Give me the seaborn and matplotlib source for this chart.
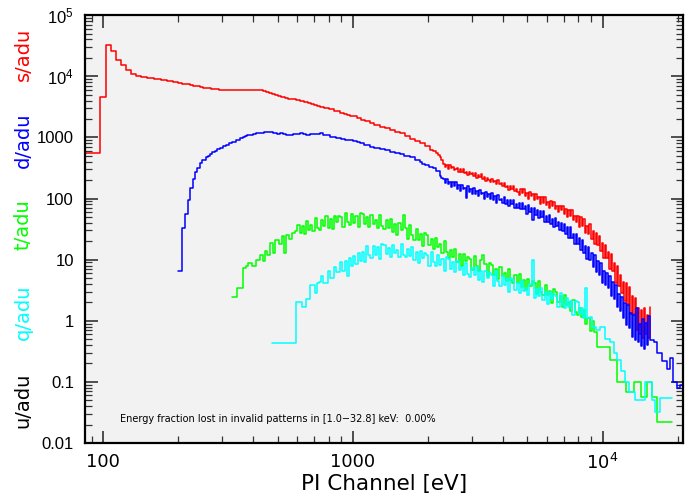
import numpy as np
import pandas as pd
import matplotlib
matplotlib.use('Agg')
import matplotlib.pyplot as plt
from matplotlib.ticker import FixedLocator, FixedFormatter, LogLocator, NullFormatter
import seaborn as sns

# ---- values: PI channel energy [eV] vs counts/adu ----

# fine channel grid of the noisy high-energy part of singles / doubles
E_HI = [2300, 2332, 2365, 2398, 2431, 2465, 2500, 2535, 2570, 2606,
        2643, 2680, 2717, 2755, 2794, 2833, 2873, 2913, 2954, 2995,
        3037, 3080, 3123, 3167, 3211, 3256, 3302, 3348, 3395, 3443,
        3491, 3540, 3589, 3640, 3691, 3742, 3795, 3848, 3902, 3956,
        4012, 4068, 4125, 4183, 4241, 4301, 4361, 4422, 4484, 4547,
        4610, 4675, 4740, 4807, 4874, 4942, 5012, 5082, 5153, 5225,
        5298, 5372, 5447, 5524, 5601, 5680, 5759, 5840, 5922, 6004,
        6088, 6174, 6260, 6348, 6437, 6527, 6618, 6711, 6805, 6900,
        6997, 7095, 7194, 7295, 7397, 7500, 7605, 7712, 7820, 7929,
        8040, 8153, 8267, 8383, 8500, 8619, 8740, 8862, 8986, 9112,
        9240, 9369, 9500, 9633, 9768, 9905, 10044, 10184, 10327, 10471,
        10618, 10767, 10917, 11070, 11225, 11382, 11542, 11703, 11867, 12033,
        12202, 12373, 12546, 12721, 12900, 13080, 13263, 13449, 13637, 13828,
        14022, 14218, 14417, 14619, 14824, 15031, 15242, 15455]

# singles (s)
S_E_LO = [84, 97.3, 102.8, 107.7, 112.7, 118, 123.6, 129.4, 135.5, 142,
          150, 160, 170, 180, 190, 200, 207, 215, 222, 230,
          237, 244, 252, 260, 270, 280, 290, 300, 315, 330,
          345, 360, 375, 390, 405, 420, 435, 450, 462, 475,
          487, 500, 517, 534, 552, 570, 590, 613, 636, 660,
          680, 700, 720, 738, 770, 800, 840, 888, 920, 950,
          975, 1000, 1040, 1080, 1120, 1169, 1220, 1280, 1340, 1406,
          1470, 1541, 1620, 1700, 1775, 1854, 1940, 2032, 2090, 2150,
          2190, 2228, 2260]
S_LO = [557, 4600, 32000, 26000, 18600, 15500, 12800, 11000, 10200, 9700,
        9300, 9000, 8700, 8400, 8100, 7800, 7600, 7400, 7200, 7000,
        6850, 6700, 6500, 6350, 6200, 6100, 6050, 6000, 5950, 5900,
        5880, 5900, 5950, 6000, 5980, 5900, 5750, 5600, 5400, 5200,
        5000, 4800, 4600, 4400, 4300, 4200, 4100, 4000, 3850, 3700,
        3550, 3400, 3270, 3150, 3000, 2900, 2720, 2550, 2450, 2350,
        2270, 2200, 2070, 1950, 1830, 1700, 1600, 1500, 1400, 1300,
        1230, 1170, 1050, 950, 880, 810, 710, 620, 590, 560,
        520, 480, 420]
S_HI = [371, 323, 349, 306, 354, 312, 330, 289, 309, 321,
        274, 305, 274, 305, 259, 275, 241, 276, 247, 260,
        235, 262, 219, 241, 221, 249, 208, 221, 191, 220,
        199, 183, 211, 183, 197, 171, 198, 171, 177, 158,
        180, 153, 160, 140, 162, 145, 162, 131, 143, 128,
        116, 142, 121, 141, 109, 125, 100, 127, 108, 117,
        95, 118, 97, 107, 82, 105, 86, 104, 77, 88,
        71, 90, 74, 88, 68, 75, 60, 76, 64, 74,
        55, 67, 50, 66, 52, 64, 44, 51, 42, 51,
        34, 49, 35, 46, 27, 36, 26, 38, 22, 29,
        18, 27.5, 17.4, 24.7, 14, 18.4, 10.7, 17.4, 10.8, 13.2,
        7, 12.2, 6.4, 8.9, 4.1, 7.8, 3.75, 5.7, 2.8, 4.3,
        2.1, 4.2, 1.9, 3.6, 1.3, 2.5, 1.3, 2.4, 0.7, 1.6,
        0.6, 1.5, 0.53, 1.6, 0.6, 1.26, 0.53, 1.7]

# doubles (d)
D_E_LO = [199.5, 207, 213, 219, 223, 229, 233, 238, 244, 250,
          258, 263, 268, 274, 280, 287, 294, 302, 310, 319,
          328, 340, 353, 362, 370, 378, 387, 398, 410, 420,
          430, 440, 450, 465, 480, 495, 511, 525, 540, 560,
          575, 590, 613, 630, 650, 675, 700, 720, 738, 760,
          780, 809, 835, 860, 895, 930, 965, 1000, 1035, 1067,
          1110, 1169, 1220, 1282, 1340, 1406, 1470, 1541, 1610, 1690,
          1770, 1854, 1900, 1950, 2020, 2090, 2160, 2228, 2260]
D_LO = [6.5, 33, 56, 95, 150, 205, 270, 320, 380, 420,
        470, 500, 540, 570, 600, 640, 670, 720, 760, 810,
        850, 900, 970, 1010, 1050, 1080, 1100, 1150, 1180, 1200,
        1160, 1220, 1240, 1210, 1180, 1150, 1170, 1120, 1100, 1080,
        1120, 1150, 1170, 1120, 1100, 1130, 1150, 1120, 1160, 1100,
        1080, 1000, 1020, 960, 940, 900, 890, 870, 840, 820,
        760, 700, 680, 640, 610, 580, 560, 530, 500, 480,
        430, 390, 370, 350, 330, 310, 280, 230, 215]
D_HI = [210, 176, 210, 174, 186, 157, 187, 161, 184, 144,
        166, 132, 167, 143, 151, 102, 159, 129, 144, 119,
        146, 118, 135, 109, 140, 117, 121, 100, 129, 106,
        118, 98, 123, 96, 111, 83, 112, 93, 100, 83,
        104, 82, 94, 75, 95, 81, 95, 70, 80, 70,
        85, 67, 85, 67, 75, 56, 77, 60, 70, 45,
        71, 54, 64, 48, 62, 50, 62, 42, 51, 42,
        53, 38, 47, 34, 48, 35, 42, 30, 40, 29,
        38, 26, 34, 22.4, 34, 22.4, 26.4, 18, 25.8, 18,
        22.8, 14.4, 21, 12.9, 16.8, 10.1, 16.3, 9.8, 12.6, 7.6,
        11.7, 6.2, 9.6, 5.7, 8.8, 4.2, 6.6, 3.9, 6.0, 3.4,
        5.4, 2.5, 4.3, 2.25, 3.8, 1.7, 2.75, 1.45, 2.45, 1.1,
        1.96, 0.85, 1.8, 0.77, 1.35, 0.55, 1.23, 0.48, 1.6, 0.45,
        0.9, 0.38, 1.07, 0.34, 0.93, 0.4, 1.2, 0.48]
D_E_TAIL = [16000, 16520, 17300, 18110, 18600, 19200, 19860, 20500, 21500]
D_TAIL = [0.45, 0.3, 0.22, 0.16, 0.25, 0.1, 0.08, 0.09, 0.09]

# channel grid shared by triples / quadruples in their noisy part
E_MID = [600, 612, 624, 637, 649, 662, 676, 689, 703, 717,
         731, 746, 761, 776, 792, 808, 824, 840, 857, 874,
         892, 909, 928, 946, 965, 984, 1004, 1024, 1045, 1066,
         1087, 1109, 1131, 1154, 1177, 1200, 1224, 1249, 1274, 1299,
         1325, 1352, 1379, 1407, 1435, 1463, 1493, 1523, 1553, 1584,
         1616, 1648, 1681, 1715, 1749, 1784, 1820, 1856, 1893, 1931,
         1970, 2009, 2049, 2090, 2132, 2175, 2218, 2263, 2308, 2354,
         2401, 2449, 2498, 2548, 2599, 2651, 2704, 2758, 2813, 2870,
         2927, 2986, 3045, 3106, 3168, 3232, 3296, 3362, 3430, 3498,
         3568, 3640, 3712, 3787, 3862, 3940, 4018, 4099, 4181, 4264,
         4350, 4437, 4525, 4616, 4708, 4802, 4899, 4997, 5097, 5199,
         5303, 5409, 5517, 5627, 5740, 5855, 5972, 6091, 6213, 6337,
         6464, 6594, 6725, 6860, 6997, 7137, 7280, 7425, 7574, 7725,
         7880, 8037, 8198, 8362, 8529, 8700, 8874, 9051]

# triples (t)
T_E_LO = [328, 345, 363, 372, 380, 395, 410, 424, 435, 445,
          455, 465, 480, 490, 505, 520, 530, 540, 555, 570, 585]
T_LO = [2.45, 3.5, 7.2, 7.8, 8.8, 8.0, 10, 12, 9.5, 14,
        12, 19, 13, 21, 18, 24, 13, 25, 22, 27, 29]
T_MID = [37, 27, 36, 26, 42.5, 31, 37, 29, 48, 33,
         31, 44.5, 35, 51, 32.5, 45.5, 31.5, 51, 41, 52,
         49.5, 34, 59, 42, 37, 56, 40, 52, 34, 59,
         55, 38.5, 49, 34, 54, 38.5, 44, 33, 53, 35,
         32, 43.7, 33.5, 46.5, 28.3, 38, 25.3, 39.4, 30.3, 53,
         33, 21.8, 36.7, 25.1, 21.1, 31.2, 21.2, 26.7, 16.5, 27.5,
         25.2, 17.3, 21.7, 14.8, 22.9, 15.9, 17.9, 13, 20.4, 13.2,
         10.7, 14.5, 11, 15.1, 9.1, 12.2, 8, 12.4, 9.4, 11.2,
         10.1, 6.75, 11.3, 7.8, 6.6, 9.8, 12, 8.4, 5.3, 8.75,
         8.2, 5.6, 7.0, 4.9, 7.6, 5.3, 6.0, 4.5, 7.0, 4.6,
         4.1, 5.6, 4.2, 5.9, 3.6, 4.7, 3.2, 4.9, 3.7, 4.5,
         4.1, 2.7, 4.55, 3.0, 2.6, 3.8, 2.6, 3.1, 1.95, 3.25,
         3.0, 2.0, 2.5, 1.7, 2.6, 1.8, 2.0, 1.45, 2.2, 1.4,
         1.23, 1.6, 1.17, 1.5, 0.88, 1.1, 0.69, 1.0]
T_E_TAIL = [9200, 9500, 10700, 11430, 12400, 13400, 14300, 15100, 15700, 16500, 18970]
T_TAIL = [0.65, 0.37, 0.23, 0.1, 0.068, 0.1, 0.057, 0.1, 0.057, 0.022, 0.022]

# quadruples (q)
Q_E_LO = [474, 590]
Q_LO = [0.43, 2.0]
Q_MID = [2.0, 2.0, 1.7, 1.7, 2.3, 2.3, 3.8, 3.8, 2.8, 4.2,
         4.3, 5.5, 4.2, 4.2, 6.5, 5.0, 5.0, 7.5, 6.2, 6.2,
         9.0, 6.5, 9.5, 5.5, 10.5, 8.0, 11.5, 8.5, 13, 9.5,
         13.2, 9.2, 16.4, 11.9, 10.6, 16.5, 11.9, 15.8, 10.3, 18,
         17.4, 12.2, 15.7, 11.1, 17.6, 12.6, 14.6, 11.0, 17.7, 11.9,
         11, 15.1, 11.6, 16.1, 9.8, 13.3, 8.9, 13.8, 10.7, 13,
         11.9, 8.0, 13.4, 9.3, 7.9, 11.8, 8.2, 10.3, 6.5, 11,
         10.3, 7.1, 9.0, 6.2, 9.6, 6.75, 7.7, 5.6, 8.8, 5.8,
         5.2, 7.2, 5.6, 7.7, 4.7, 6.4, 4.3, 6.6, 5.1, 6.1,
         5.6, 3.75, 6.4, 4.4, 3.7, 5.5, 3.8, 4.8, 2.95, 5.0,
         4.7, 3.2, 4.1, 2.8, 4.4, 3.1, 3.5, 2.6, 4.0, 10,
         2.4, 3.3, 2.5, 3.5, 2.2, 2.9, 1.9, 3.0, 2.3, 2.7,
         2.5, 1.65, 2.8, 1.9, 1.6, 2.4, 1.65, 2.1, 1.25, 2.1,
         2.0, 1.3, 1.6, 1.1, 3.5, 1.1, 1.15, 0.8]
Q_E_TAIL = [9400, 9800, 10200, 10700, 11100, 11430, 11800, 12300, 12800, 13500,
            14800, 15800, 16200, 17000, 18970]
Q_TAIL = [0.7, 0.8, 0.5, 0.45, 0.3, 0.23, 0.15, 0.1, 0.068, 0.05,
          0.1, 0.05, 0.032, 0.055, 0.055]

SERIES = [
    ('s', S_E_LO + E_HI, S_LO + S_HI, '#ff0000'),
    ('d', D_E_LO + E_HI + D_E_TAIL, D_LO + D_HI + D_TAIL, '#0000ff'),
    ('t', T_E_LO + E_MID + T_E_TAIL, T_LO + T_MID + T_TAIL, '#00ff00'),
    ('q', Q_E_LO + E_MID + Q_E_TAIL, Q_LO + Q_MID + Q_TAIL, '#00ffff'),
]

Y_TICKS = [0.01, 0.1, 1, 10, 100, 1000, 1e4, 1e5]
Y_TICKLABELS = ['0.01', '0.1', '1', '10', '100', '1000', '$10^4$', '$10^5$']
X_TICKS = [100, 1000, 1e4]
X_TICKLABELS = ['100', '1000', '$10^4$']

YLABELS = [('s/adu', '#ff0000'), ('d/adu', '#0000ff'), ('t/adu', '#00ff00'),
           ('q/adu', '#00ffff'), ('u/adu', '#000000')]
YLABEL_POS = [54, 140, 225, 312, 400]   # vertical centres, pixels from top

sns.set_style('ticks')
plt.rcParams['font.family'] = ['DejaVu Sans']
plt.rcParams['mathtext.default'] = 'regular'
for k in ['text.color', 'axes.labelcolor', 'xtick.color', 'ytick.color']:
    plt.rcParams[k] = 'black'

fig = plt.figure(figsize=(6.86, 5.04), dpi=100)
ax = fig.add_axes([0.1239, 0.121, 0.8717, 0.849])
ax.set_facecolor('#f2f2f2')
ax.set(xscale='log', yscale='log')

for name, e, v, col in SERIES:
    df = pd.DataFrame({'energy': e, 'counts': v})
    sns.lineplot(data=df, x='energy', y='counts', color=col, lw=1.1,
                 drawstyle='steps-post', estimator=None, ax=ax)

ax.set_xlim(84.7, 20980)
ax.set_ylim(0.01, 1e5)

ax.xaxis.set_major_locator(FixedLocator(X_TICKS))
ax.xaxis.set_major_formatter(FixedFormatter(X_TICKLABELS))
ax.xaxis.set_minor_locator(LogLocator(base=10, subs=np.arange(2, 10)))
ax.xaxis.set_minor_formatter(NullFormatter())
ax.yaxis.set_major_locator(FixedLocator(Y_TICKS))
ax.yaxis.set_major_formatter(FixedFormatter(Y_TICKLABELS))
ax.yaxis.set_minor_locator(LogLocator(base=10, subs=np.arange(2, 10), numticks=20))
ax.yaxis.set_minor_formatter(NullFormatter())

ax.tick_params(which='both', direction='in', top=True, right=True, color='#333333')
ax.tick_params(which='major', length=9, width=1.2)
ax.tick_params(which='minor', length=5, width=0.9)
ax.tick_params(axis='x', which='major', labelsize=13, pad=7)
ax.tick_params(axis='y', which='major', labelsize=12, pad=8)
for lbl in ax.get_yticklabels():
    lbl.set_fontfamily(['Liberation Sans', 'DejaVu Sans'])
for sp in ax.spines.values():
    sp.set_linewidth(1.6)
    sp.set_color('black')

ax.set_xlabel('PI Channel [eV]', fontsize=15.5, labelpad=1)
ax.set_ylabel('')

for (lab, col), ypx in zip(YLABELS, YLABEL_POS):
    fig.text(0.034, 1 - ypx / 504, lab, color=col, fontsize=14,
             rotation=90, ha='center', va='center')

ax.text(0.0585, 0.056, 'Energy fraction lost in invalid patterns in [1.0\u221232.8] keV:  0.00%',
        transform=ax.transAxes, fontsize=7, ha='left', va='center')

fig.savefig('out.png', dpi=100)
